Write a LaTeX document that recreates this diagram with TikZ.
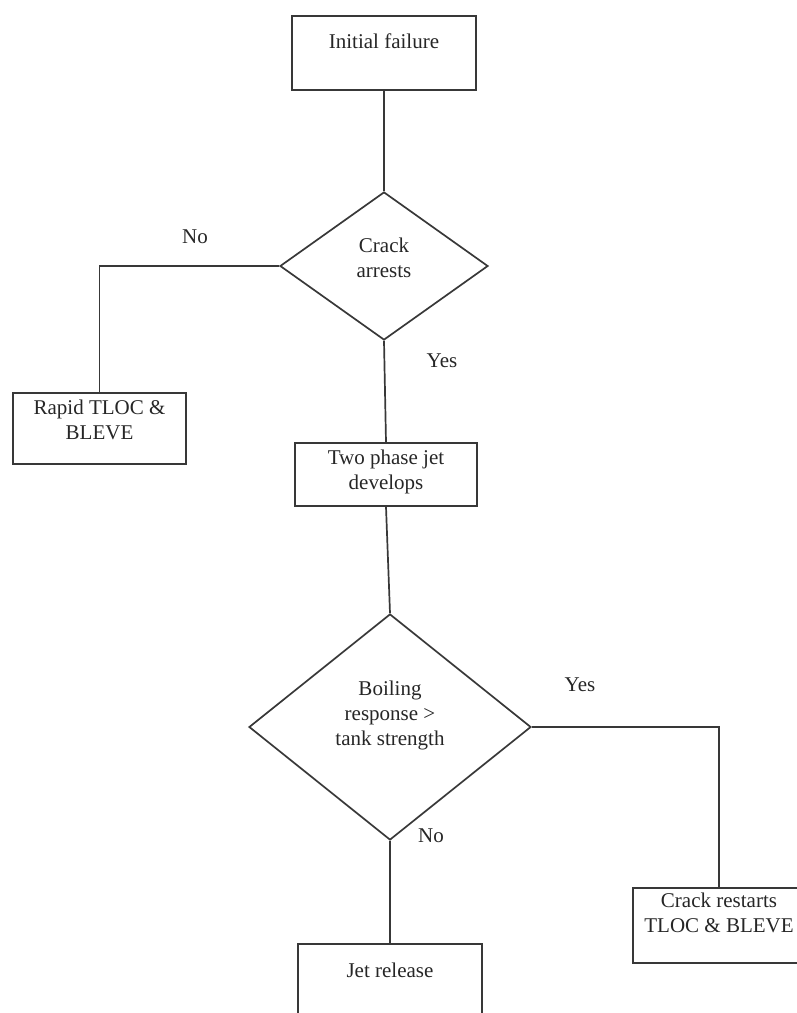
\documentclass[tikz,border=0pt]{standalone}
\usepackage{fontspec}
\setmainfont{Liberation Serif}
\usetikzlibrary{shapes.geometric}
\newcommand{\flowlines}[1]{\begin{tabular}[t]{@{}c@{}}#1\end{tabular}}

\begin{document}
\begin{tikzpicture}[
        x=1pt, y=-1pt,
        font={\fontsize{21}{25}\selectfont}, text=black!85,
        link/.style = {draw=black!78, line width=1.7pt},
        flowbox/.style = {rectangle, draw=black!78, line width=1.7pt, inner sep=0pt, anchor=north},
        decision/.style = {diamond, draw=black!78, line width=1.7pt, inner sep=0pt},
        answer/.style = {inner sep=0pt}
        ]
        \useasboundingbox (0,0) rectangle (797,1013);
        \clip (0,0) rectangle (797,1013);

        \node[flowbox, minimum width=184pt, text height=33pt, text depth=41pt] (init) at (384,15) {Initial failure};
        \node[decision, aspect=1.4, minimum width=208pt, minimum height=148pt, text height=18pt, text depth=46pt] (crack) at (384,266) {\flowlines{Crack\\arrests}};
        \node[flowbox, minimum width=173pt, text height=22pt, text depth=49pt] (rapid) at (99.5,392) {\flowlines{Rapid TLOC \&\\BLEVE}};
        \node[flowbox, minimum width=182pt, text height=22pt, text depth=41pt] (twophase) at (386,442) {\flowlines{Two phase jet\\develops}};
        \node[decision, aspect=1.25, minimum width=282pt, minimum height=226pt, text height=18pt, text depth=82pt] (boiling) at (390,727) {\flowlines{Boiling\\response >\\tank strength}};
        \node[flowbox, minimum width=172pt, text height=20pt, text depth=55pt] (restart) at (719,887) {\flowlines{Crack restarts\\TLOC \& BLEVE}};
        \node[flowbox, minimum width=184pt, text height=34pt, text depth=60pt] (release) at (390,943) {Jet release};

        \node[answer] (no1) at (195,237) {No};
        \node[answer] (yes1) at (442,361) {Yes};
        \node[answer] (yes2) at (580,685) {Yes};
        \node[answer] (no2) at (431,836) {No};

        \draw[link] (init.south) -- (crack.north);
        \draw[link] (crack.west) -| (rapid.north);
        \draw[link] (crack.south) -- (twophase.north);
        \draw[link] (twophase.south) -- (boiling.north);
        \draw[link] (boiling.east) -| (restart.north);
        \draw[link] (boiling.south) -- (release.north);
\end{tikzpicture}
\end{document}
